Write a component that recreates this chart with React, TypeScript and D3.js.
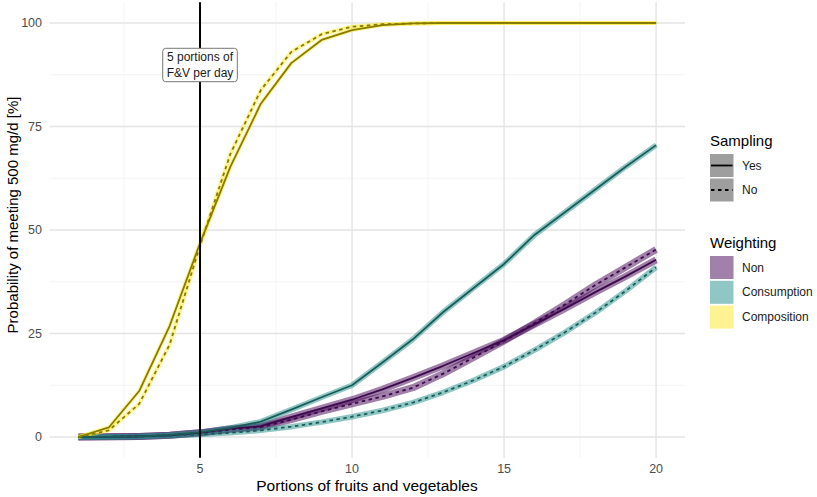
import React from "react";
import * as d3 from "d3";

const portions = [1, 2, 3, 4, 5, 6, 7, 8, 9, 10, 11, 12, 13, 14, 15, 16, 17, 18, 19, 20];

const nonYes = [0, 0.05, 0.15, 0.4, 1.0, 2.0, 2.6, 4.8, 6.9, 9.0, 11.5, 14.3, 17.2, 20.3, 23.4, 27.2, 31.0, 35.0, 38.8, 42.8];
const nonNo = [0, 0.05, 0.15, 0.4, 1.0, 1.8, 2.4, 4.2, 6.2, 8.0, 9.8, 11.9, 15.3, 19.2, 23.2, 27.5, 32.0, 36.7, 41.0, 45.3];
const consumptionYes = [0, 0.05, 0.15, 0.5, 1.1, 2.2, 3.7, 6.6, 9.6, 12.5, 18.0, 23.6, 30.2, 36.0, 41.8, 48.8, 54.3, 59.8, 65.3, 70.5];
const consumptionNo = [0, 0.02, 0.1, 0.3, 0.6, 1.0, 1.6, 2.5, 3.6, 4.9, 6.4, 8.3, 10.8, 13.7, 17.0, 21.0, 25.3, 30.0, 35.3, 41.0];
const compositionYes = [0, 2.3, 11.1, 26.8, 46.8, 65.3, 80.5, 90.3, 95.9, 98.3, 99.5, 99.9, 100, 100, 100, 100, 100, 100, 100, 100];
const compositionNo = [0, 1.6, 8.0, 22.3, 46.2, 68.4, 83.8, 93.0, 97.3, 99.1, 99.7, 99.9, 100, 100, 100, 100, 100, 100, 100, 100];

const weightingLabels = ["Non", "Consumption", "Composition"];
const samplingLabels = ["Yes", "No"];
const xTicks = [5, 10, 15, 20];
const xMinor = [2.5, 7.5, 12.5, 17.5];
const yTicks = [0, 25, 50, 75, 100];
const yMinor = [12.5, 37.5, 62.5, 87.5];
const guideX = 5;
const guideLabel = ["5 portions of", "F&V per day"];

const fillColors = ["#440154", "#21908C", "#FDE725"];
const lineColors = ["#3b0a4c", "#1a5c57", "#857c00"];
const bandWidths = [7, 5.5, 4];

const series = [
  { w: 0, s: 0, values: nonYes },
  { w: 0, s: 1, values: nonNo },
  { w: 1, s: 0, values: consumptionYes },
  { w: 1, s: 1, values: consumptionNo },
  { w: 2, s: 0, values: compositionYes },
  { w: 2, s: 1, values: compositionNo },
];

const FONT = "'Liberation Sans', Arial, Helvetica, sans-serif";

export default function App() {
  const left = 49.5, right = 685, top = 2.3, bottom = 457.7;
  const x = d3.scaleLinear().domain([0.05, 20.95]).range([left, right]);
  const y = d3.scaleLinear().domain([-5, 105]).range([bottom, top]);
  const line = d3
    .line<number>()
    .x((_, i) => x(portions[i]))
    .y((d) => y(d));

  const legX = 710;
  return (
    <svg
      width={817}
      height={497}
      style={{ position: "absolute", left: 0, top: 0, background: "#fff" }}
      fontFamily={FONT}
    >
      <rect x={0} y={0} width={817} height={497} fill="#fff" />
      {/* grid */}
      {xMinor.map((v) => (
        <line key={"xm" + v} x1={x(v)} x2={x(v)} y1={top} y2={bottom} stroke="#eeeeee" strokeWidth={0.7} />
      ))}
      {yMinor.map((v) => (
        <line key={"ym" + v} x1={left} x2={right} y1={y(v)} y2={y(v)} stroke="#eeeeee" strokeWidth={0.7} />
      ))}
      {xTicks.map((v) => (
        <line key={"xM" + v} x1={x(v)} x2={x(v)} y1={top} y2={bottom} stroke="#e4e4e4" strokeWidth={1.4} />
      ))}
      {yTicks.map((v) => (
        <line key={"yM" + v} x1={left} x2={right} y1={y(v)} y2={y(v)} stroke="#e4e4e4" strokeWidth={1.4} />
      ))}

      {/* bands */}
      {series.map((s, i) => (
        <path
          key={"b" + i}
          d={line(s.values) || ""}
          fill="none"
          stroke={fillColors[s.w]}
          strokeOpacity={0.5}
          strokeWidth={bandWidths[s.w]}
          strokeLinejoin="round"
          strokeLinecap="butt"
        />
      ))}
      {/* lines */}
      {series.map((s, i) => (
        <path
          key={"l" + i}
          d={line(s.values) || ""}
          fill="none"
          stroke={lineColors[s.w]}
          strokeWidth={1.8}
          strokeDasharray={s.s === 1 ? "3.5,3.5" : undefined}
          strokeLinejoin="round"
        />
      ))}

      {/* guide line */}
      <line x1={x(guideX)} x2={x(guideX)} y1={top} y2={bottom} stroke="#000" strokeWidth={2} />
      <g transform={`translate(${x(guideX)},65)`}>
        <rect x={-37.3} y={-16.7} width={74.6} height={33.4} rx={3} fill="#fff" stroke="#777" strokeWidth={1} />
        <text y={-8.3} textAnchor="middle" dominantBaseline="central" fontSize={12} fill="#1a1a1a">
          {guideLabel[0]}
        </text>
        <text y={8.3} textAnchor="middle" dominantBaseline="central" fontSize={12} fill="#1a1a1a">
          {guideLabel[1]}
        </text>
      </g>

      {/* axes labels */}
      {xTicks.map((v) => (
        <text key={"xt" + v} x={x(v)} y={469} textAnchor="middle" dominantBaseline="central" fontSize={12.5} fill="#4d4d4d">
          {v}
        </text>
      ))}
      {yTicks.map((v) => (
        <text key={"yt" + v} x={42} y={y(v)} textAnchor="end" dominantBaseline="central" fontSize={12.5} fill="#4d4d4d">
          {v}
        </text>
      ))}
      <text x={367} y={485} textAnchor="middle" dominantBaseline="central" fontSize={15.5} fill="#000">
        Portions of fruits and vegetables
      </text>
      <text
        transform={`translate(12,215) rotate(-90)`}
        textAnchor="middle"
        dominantBaseline="central"
        fontSize={15}
        fill="#000"
      >
        Probability of meeting 500 mg/d [%]
      </text>

      {/* legend: sampling */}
      <text x={legX} y={140} dominantBaseline="central" fontSize={15} fill="#000">
        Sampling
      </text>
      {samplingLabels.map((lab, i) => {
        const ky = 154 + i * 24.5;
        return (
          <g key={"s" + lab}>
            <rect x={legX} y={ky} width={23.5} height={23} fill="#9e9e9e" />
            <line
              x1={legX + 1}
              x2={legX + 22.5}
              y1={ky + 11.5}
              y2={ky + 11.5}
              stroke="#000"
              strokeWidth={1.8}
              strokeDasharray={i === 1 ? "3.5,3.5" : undefined}
            />
            <text x={742} y={ky + 11.5} dominantBaseline="central" fontSize={12} fill="#1a1a1a">
              {lab}
            </text>
          </g>
        );
      })}

      {/* legend: weighting */}
      <text x={legX} y={242} dominantBaseline="central" fontSize={15} fill="#000">
        Weighting
      </text>
      {weightingLabels.map((lab, i) => {
        const ky = 256 + i * 24.8;
        return (
          <g key={"w" + lab}>
            <rect x={legX} y={ky} width={23.5} height={23} fill={fillColors[i]} fillOpacity={0.5} />
            <text x={742} y={ky + 11.5} dominantBaseline="central" fontSize={12} fill="#1a1a1a">
              {lab}
            </text>
          </g>
        );
      })}
    </svg>
  );
}
